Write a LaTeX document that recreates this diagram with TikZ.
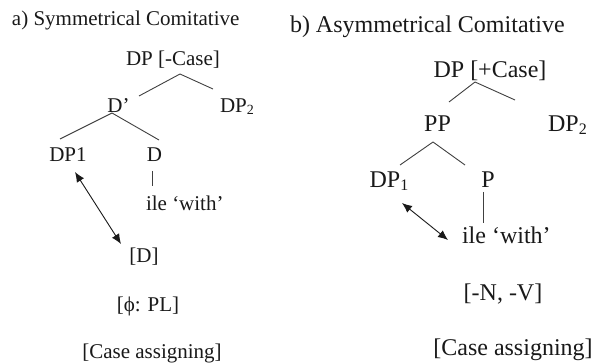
\documentclass[tikz,border=0pt]{standalone}
\usepackage{fontspec}
\setmainfont{Liberation Serif}
\usetikzlibrary{calc,arrows.meta}
\newcommand{\sza}{\fontsize{21}{24}\selectfont}
\newcommand{\szb}{\fontsize{24}{28}\selectfont}
\newcommand{\subA}[1]{\raisebox{-0.2ex}{\fontsize{14}{14}\selectfont #1}}
\newcommand{\subB}[1]{\raisebox{-0.2ex}{\fontsize{16}{16}\selectfont #1}}
\tikzset{
  lbl/.style={inner sep=0pt, outer sep=0pt, anchor=base, text=black!90},
  lblA/.style={lbl, font=\sza},
  lblB/.style={lbl, font=\szb},
  branch/.style={draw=black!75, line width=0.9pt},
  link/.style={draw=black!90, line width=0.9pt, {Latex[length=10pt,width=8.5pt]}-{Latex[length=10pt,width=8.5pt]}}
}
\begin{document}
\begin{tikzpicture}[x=1pt,y=-1pt]
\useasboundingbox[fill=white] (0,0) rectangle (593,363);
% ---- panel a
\node[lblA, anchor=base west] (titleA) at (12,26) {a) Symmetrical Comitative};
\node[lblA] (topA) at (173,66) {DP [-Case]};
\node[lblA] (Dbar) at (118.5,113) {D’};
\node[lblA] (DP2a) at (237,113) {DP\subA{2}};
\node[lblA] (DP1a) at (68,162) {DP1};
\node[lblA] (Da) at (154.5,162) {D};
\node[lblA, anchor=base west] (ileA) at (146,210) {ile ‘with’};
\node[lblA] (featD) at (144,262) {[D]};
\node[lblA] (phiA) at (148,311) {[ϕ: PL]};
\node[lblA] (caseA) at (152,358) {[Case assigning]};
\draw[branch] ($(topA.base)+(7,8)$) -- ($(Dbar.base)+(20.5,-17)$);
\draw[branch] ($(topA.base)+(7,8)$) -- ($(DP2a.base)+(-24,-24)$);
\draw[branch] ($(Dbar.base)+(-6.5,0)$) -- ($(DP1a.base)+(-8,-23)$);
\draw[branch] ($(Dbar.base)+(-6.5,0)$) -- ($(Da.base)+(4.5,-22)$);
\draw[branch] ($(Da.base)+(-2.5,9)$) -- ($(ileA.base west)+(6,-24)$);
\draw[link] ($(DP1a.base)+(7,10)$) -- ($(featD.base)+(-23,-18)$);
% ---- panel b
\node[lblB, anchor=base west] (titleB) at (290,33) {b) Asymmetrical Comitative};
\node[lblB] (topB) at (490,78) {DP [+Case]};
\node[lblB] (PP) at (437.5,132) {PP};
\node[lblB] (DP2b) at (567.5,132) {DP\subB{2}};
\node[lblB] (DP1b) at (389,188) {DP\subB{1}};
\node[lblB] (Pb) at (488,188) {P};
\node[lblB, anchor=base west] (ileB) at (462,243) {ile ‘with’};
\node[lblB] (featB) at (503,300) {[-N, -V]};
\node[lblB] (caseB) at (513,355) {[Case assigning]};
\draw[branch] ($(topB.base)+(-15,4)$) -- ($(PP.base)+(11.5,-30)$);
\draw[branch] ($(topB.base)+(-15,4)$) -- ($(DP2b.base)+(-52.5,-32)$);
\draw[branch] ($(PP.base)+(-4.5,10)$) -- ($(DP1b.base)+(11,-23)$);
\draw[branch] ($(PP.base)+(-4.5,10)$) -- ($(Pb.base)+(-23,-23)$);
\draw[branch] ($(Pb.base)+(-5,4)$) -- ($(ileB.base west)+(21,-20)$);
\draw[link] ($(DP1b.base)+(13,15)$) -- ($(ileB.base west)+(-14,-3)$);
\end{tikzpicture}
\end{document}
